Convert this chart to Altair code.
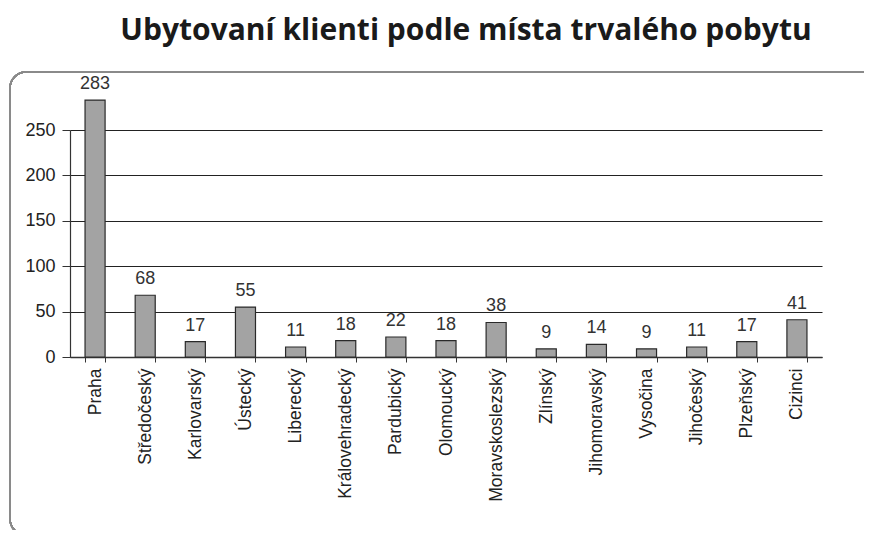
import altair as alt
import pandas as pd

regions = ["Praha", "Středočeský", "Karlovarský", "Ústecký", "Liberecký",
           "Královehradecký", "Pardubický", "Olomoucký", "Moravskoslezský",
           "Zlínský", "Jihomoravský", "Vysočina", "Jihočeský", "Plzeňský", "Cizinci"]
clients = [283, 68, 17, 55, 11, 18, 22, 18, 38, 9, 14, 9, 11, 17, 41]
y_ticks = [0, 50, 100, 150, 200, 250]

df = pd.DataFrame({"region": regions, "clients": clients})

W, H = 752, 227
PAD_L, PAD_T = 62, 122

x = alt.X("region:N", sort=regions, title=None,
          scale=alt.Scale(paddingInner=0.6, paddingOuter=0.3),
          axis=alt.Axis(labelAngle=-90, labelFont="Liberation Sans", labelFontSize=17.5,
                        labelColor="#222", labelPadding=6, tickBand="extent",
                        tickSize=5, tickColor="#333", domainColor="#333",
                        domainWidth=1.5, grid=False))
y = alt.Y("clients:Q", title=None,
          scale=alt.Scale(domain=[0, 250], nice=False),
          axis=alt.Axis(values=y_ticks, labelFont="Liberation Sans", labelFontSize=18,
                        labelColor="#222", labelPadding=7, tickSize=8, tickColor="#333",
                        domainColor="#333", domainWidth=1.2, grid=True,
                        gridColor="#222", gridWidth=1.1))

box = alt.Chart(df).mark_rect(
    cornerRadius=16, fill="transparent", stroke="#8a8a8a", strokeWidth=1.5, clip=False
).encode(
    x=alt.value(10 - 8 - PAD_L), x2=alt.value(900),
    y=alt.value(72 - 8 - PAD_T), y2=alt.value(535 - 8 - PAD_T)
)

bars = alt.Chart(df).mark_bar(
    color="#a3a3a3", stroke="#2a2a2a", strokeWidth=1.2, clip=False
).encode(x=x, y=y)

labels = alt.Chart(df).mark_text(
    dy=-7, baseline="bottom", font="Liberation Sans", fontSize=18, color="#333", clip=False
).encode(x=alt.X("region:N", sort=regions), y=alt.Y("clients:Q"), text="clients:Q")

chart = alt.layer(box, bars, labels).properties(
    width=W, height=H,
    title=alt.TitleParams(
        "Ubytovaní klienti podle místa trvalého pobytu",
        font="Open Sans", fontSize=30, fontWeight="bold", color="#1a1a1a",
        anchor="middle", offset=25, dx=20
    ),
    autosize=alt.AutoSizeParams(type="none"),
    padding={"left": PAD_L, "top": PAD_T, "right": 872 - 16 - PAD_L - W, "bottom": 522 - PAD_T - H}
).configure_view(stroke=None)

chart.save("out.html", embed_options={"renderer": "svg", "actions": False})
